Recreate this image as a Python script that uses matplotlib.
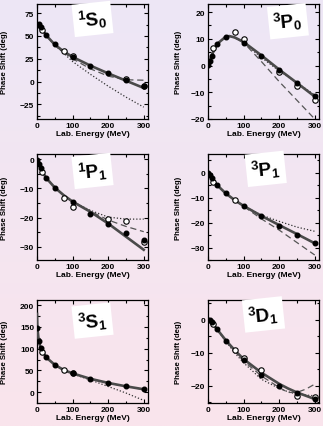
import numpy as np
import matplotlib
matplotlib.use('Agg')
import matplotlib.pyplot as plt
from matplotlib.ticker import MultipleLocator

plt.rcParams['font.family'] = 'Liberation Sans'
plt.rcParams['font.weight'] = 'bold'
plt.rcParams['mathtext.fontset'] = 'custom'
plt.rcParams['mathtext.bf'] = 'Liberation Sans:bold'
plt.rcParams['mathtext.rm'] = 'Liberation Sans:bold'
plt.rcParams['mathtext.default'] = 'bf'

# lab energies of the phase shift analysis points
e_fill = [1, 5, 10, 25, 50, 100, 150, 200, 250, 300]

# ---- 1S0
s0_fill = [62.1, 63.6, 60.0, 51.2, 40.8, 26.8, 17.0, 9.1, 2.0, -4.4]
s0_open_e = [15, 75, 100, 250, 300]
s0_open = [56.5, 33.5, 27.5, 2.5, -5.0]
s0_line_e = [0, 5, 10, 25, 50, 75, 100, 150, 200, 250, 300]
s0_solid = [62, 63, 60, 51, 40.5, 33, 27, 17.5, 9, 1, -7]
s0_dash = [62, 63, 60, 51, 40, 32, 25, 14, 6, 2, 1.5]
s0_dot = [62, 63, 60, 51, 40, 31, 22, 8, -5, -17, -28]

# ---- 3P0
p0_fill = [0.1, 1.6, 3.7, 8.1, 10.8, 8.5, 3.6, -1.5, -6.7, -11.4]
p0_open_e = [15, 75, 100, 200, 250, 300]
p0_open = [6.6, 12.7, 10.0, -2.5, -7.7, -12.8]
p0_line_e = [0, 5, 10, 25, 50, 60, 75, 100, 150, 200, 250, 300]
p0_solid = [0, 1.6, 3.7, 8, 10.8, 11, 10.5, 8.8, 3.8, -1.5, -6.5, -11.6]
p0_dash = [0, 1.6, 3.7, 8, 10.8, 11, 10.4, 8.6, 1.5, -6, -13, -20]
p0_dot = [0, 1.6, 3.7, 8, 10.8, 11, 10.4, 8.5, 3.0, -2, -6.5, -11]

# ---- 1P1
p1s_fill = [-0.2, -1.5, -3.0, -6.3, -9.7, -14.5, -18.6, -22.2, -25.1, -27.6]
p1s_open_e = [15, 75, 100, 200, 250, 300]
p1s_open = [-4.3, -13.1, -16.5, -20.3, -21.2, -28.4]
p1s_line_e = [0, 10, 25, 50, 75, 100, 150, 200, 250, 300]
p1s_solid = [0, -3, -6.3, -9.7, -12.3, -14.5, -18, -22, -26.5, -31]
p1s_dash = [0, -3, -6.3, -9.7, -12.3, -14.5, -17.8, -20.8, -23, -24.8]
p1s_dot = [0, -3, -6.3, -9.7, -12.3, -14.5, -17.5, -19.8, -20.5, -20.5]

# ---- 3P1
p1t_fill = [-0.1, -0.9, -2.1, -4.8, -8.2, -13.2, -17.5, -21.2, -24.9, -28.1]
p1t_open_e = [15, 75]
p1t_open = [-3.8, -11.1]
p1t_line_e = [0, 10, 25, 50, 75, 100, 150, 200, 250, 300]
p1t_solid = [0, -2, -4.9, -8.3, -11, -13.3, -17.3, -21, -24.6, -28.3]
p1t_dash = [0, -2, -4.9, -8.3, -11, -13.5, -18.5, -23, -28, -33]
p1t_dot = [0, -2, -4.9, -8.3, -11, -13.3, -17, -19.5, -21.8, -23.5]

# ---- 3S1
s1_fill = [147.7, 118.2, 102.6, 80.8, 62.8, 43.4, 30.4, 21.0, 13.2, 7.0]
s1_open_e = [15, 75, 100]
s1_open = [93, 52, 44]
s1_line_e = [0, 1, 5, 10, 25, 50, 75, 100, 150, 200, 250, 300]
s1_solid = [180, 148, 118, 102.6, 80.6, 62.8, 51, 43.2, 30.7, 21.2, 13.4, 6.6]
s1_dash = [180, 148, 118, 102.6, 80.6, 62.8, 51, 43, 30.5, 21, 13, 6]
s1_dot = [180, 148, 118, 102.6, 80.6, 62.8, 51, 42, 28, 13, -2, -19]

# ---- 3D1
d1_fill = [0.0, -0.2, -0.7, -2.8, -6.4, -12.3, -16.6, -20.0, -22.3, -24.0]
d1_open_e = [15, 75, 100, 150, 250, 300]
d1_open = [-1.2, -9.1, -11.6, -15.3, -23.0, -23.5]
d1_line_e = [0, 10, 25, 50, 75, 100, 150, 200, 225, 250, 275, 300]
d1_solid = [0, -0.7, -2.8, -6.2, -9.2, -11.9, -16, -19.4, -20.8, -22, -23, -24]
d1_dash = [0, -0.7, -2.8, -6.3, -9.5, -12.5, -17, -20.5, -22, -22, -21, -19.5]
d1_dot = [0, -0.7, -2.8, -6.5, -10, -13, -18, -20.8, -21.8, -22.5, -22.8, -23]

names = [r'$^1S_0$', r'$^3P_0$', r'$^1P_1$', r'$^3P_1$', r'$^3S_1$', r'$^3D_1$']
fills = [s0_fill, p0_fill, p1s_fill, p1t_fill, s1_fill, d1_fill]
opens_e = [s0_open_e, p0_open_e, p1s_open_e, p1t_open_e, s1_open_e, d1_open_e]
opens = [s0_open, p0_open, p1s_open, p1t_open, s1_open, d1_open]
lines_e = [s0_line_e, p0_line_e, p1s_line_e, p1t_line_e, s1_line_e, d1_line_e]
solids = [s0_solid, p0_solid, p1s_solid, p1t_solid, s1_solid, d1_solid]
dashes = [s0_dash, p0_dash, p1s_dash, p1t_dash, s1_dash, d1_dash]
dots = [s0_dot, p0_dot, p1s_dot, p1t_dot, s1_dot, d1_dot]

ylims = [(-41, 85), (-20, 23), (-34.5, 1.8), (-35, 7.5), (-25, 212), (-25.2, 6)]
ysteps = [25, 10, 10, 10, 50, 10]
# axes boxes in pixels: left, top, right, bottom
boxes = [(37, 5, 148, 120), (208, 5, 319, 120),
         (37, 155, 148, 261), (208, 155, 319, 261),
         (37, 301, 148, 404), (208, 301, 319, 404)]
label_pos = [(0.5, 0.87), (0.72, 0.85), (0.5, 0.84), (0.52, 0.86), (0.5, 0.8), (0.5, 0.86)]

W, H = 323, 427
fig = plt.figure(figsize=(W / 100, H / 100), dpi=100)

# background gradient lavender -> pink
bg = fig.add_axes([0, 0, 1, 1], zorder=-10)
top_c = np.array([237, 231, 246]) / 255
bot_c = np.array([250, 228, 236]) / 255
t = np.linspace(0, 1, 200)[:, None]
grad = top_c * (1 - t) + bot_c * t
bg.imshow(grad[:, None, :], aspect='auto', extent=[0, 1, 0, 1])
bg.axis('off')

for i in range(6):
    l, tp, r, b = boxes[i]
    ax = fig.add_axes([l / W, 1 - b / H, (r - l) / W, (b - tp) / H])
    ax.set_facecolor('none')

    ax.plot(lines_e[i], dots[i], color='#333333', lw=0.9, ls=(0, (1, 1.6)), zorder=2)
    ax.plot(lines_e[i], dashes[i], color='#555555', lw=0.9, ls=(0, (5, 3)), zorder=2)
    ax.plot(lines_e[i], solids[i], color='#4a4a4a', lw=1.9, zorder=3)
    ax.plot(e_fill, fills[i], 'o', color='black', ms=3.3, zorder=5)
    ax.plot(opens_e[i], opens[i], 'o', mfc='white', mec='black', mew=0.8, ms=3.9, zorder=4)

    ax.set_xlim(0, 312)
    ax.set_ylim(*ylims[i])
    ax.xaxis.set_major_locator(MultipleLocator(100))
    ax.xaxis.set_minor_locator(MultipleLocator(50))
    ax.yaxis.set_major_locator(MultipleLocator(ysteps[i]))
    ax.yaxis.set_minor_locator(MultipleLocator(ysteps[i] / 2))
    ax.tick_params(which='both', direction='in', top=True, right=True,
                   labelsize=6, pad=2, width=0.8)
    ax.tick_params(which='major', length=3)
    ax.tick_params(which='minor', length=1.8)
    for s in ax.spines.values():
        s.set_linewidth(0.9)

    ax.set_xlabel('Lab. Energy (MeV)', fontsize=6, fontweight='bold', labelpad=1)
    ax.set_ylabel('Phase Shift (deg)', fontsize=5.6, fontweight='bold')
    ax.yaxis.set_label_coords(-0.26 if i % 2 == 0 else -0.23, 0.5)

    ax.text(label_pos[i][0], label_pos[i][1], names[i], transform=ax.transAxes,
            fontsize=13.5, ha='center', va='center', rotation=6, zorder=6,
            bbox=dict(boxstyle='square,pad=0.25', fc='white', ec='none'))

fig.savefig('out.png', dpi=100)
